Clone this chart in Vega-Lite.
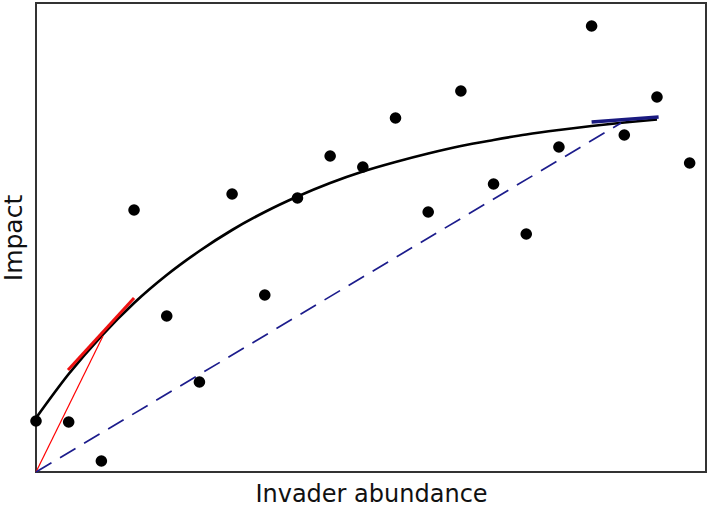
{
  "$schema": "https://vega.github.io/schema/vega-lite/v6.json",
  "width": 670,
  "height": 469,
  "autosize": {"type": "none"},
  "padding": {"left": 36, "top": 3, "right": 3, "bottom": 35},
  "background": "white",
  "config": {
    "view": {"stroke": "#333333", "strokeWidth": 2},
    "axis": {"grid": false, "ticks": false, "labels": false, "domain": false, "titleFont": "DejaVu Sans", "titleFontWeight": "normal", "titleColor": "#111111", "titleFontSize": 25}
  },
  "layer": [
    {
      "data": {"values": [
        {"x": 0, "y": 54}, {"x": 1, "y": 98}, {"x": 2, "y": 136}, {"x": 3, "y": 169},
        {"x": 4, "y": 197}, {"x": 5, "y": 221}, {"x": 6, "y": 242}, {"x": 7, "y": 260},
        {"x": 8, "y": 275.5}, {"x": 9, "y": 289}, {"x": 10, "y": 300.5}, {"x": 11, "y": 310},
        {"x": 12, "y": 318.5}, {"x": 13, "y": 326}, {"x": 14, "y": 332}, {"x": 15, "y": 337.5},
        {"x": 16, "y": 342}, {"x": 17, "y": 346}, {"x": 18, "y": 349.5}, {"x": 19, "y": 352.5}
      ]},
      "mark": {"type": "line", "color": "black", "strokeWidth": 2.7, "interpolate": "monotone"},
      "encoding": {
        "x": {"field": "x", "type": "quantitative", "scale": {"domain": [0, 20.5], "nice": false, "zero": false}, "title": "Invader abundance", "axis": {"titlePadding": 10, "titleFontSize": 24}},
        "y": {"field": "y", "type": "quantitative", "scale": {"domain": [0, 469], "nice": false, "zero": false}, "title": "Impact", "axis": {"titlePadding": 10}}
      }
    },
    {
      "data": {"values": [{"x": 0, "y": 0}, {"x": 2.05, "y": 136}]},
      "mark": {"type": "line", "color": "#ff0000", "strokeWidth": 1.2},
      "encoding": {"x": {"field": "x", "type": "quantitative"}, "y": {"field": "y", "type": "quantitative"}}
    },
    {
      "data": {"values": [{"x": 0.98, "y": 102}, {"x": 3.0, "y": 174}]},
      "mark": {"type": "line", "color": "#ee1111", "strokeWidth": 3},
      "encoding": {"x": {"field": "x", "type": "quantitative"}, "y": {"field": "y", "type": "quantitative"}}
    },
    {
      "data": {"values": [{"x": 0, "y": 0}, {"x": 17.9, "y": 349}]},
      "mark": {"type": "line", "color": "#1c1c8c", "strokeWidth": 1.7, "strokeDash": [18, 10]},
      "encoding": {"x": {"field": "x", "type": "quantitative"}, "y": {"field": "y", "type": "quantitative"}}
    },
    {
      "data": {"values": [{"x": 17.0, "y": 350}, {"x": 19.05, "y": 355}]},
      "mark": {"type": "line", "color": "#1a1a80", "strokeWidth": 3.5},
      "encoding": {"x": {"field": "x", "type": "quantitative"}, "y": {"field": "y", "type": "quantitative"}}
    },
    {
      "data": {"values": [
        {"x": 0, "y": 51}, {"x": 1, "y": 50}, {"x": 2, "y": 11}, {"x": 3, "y": 262},
        {"x": 4, "y": 156}, {"x": 5, "y": 90}, {"x": 6, "y": 278}, {"x": 7, "y": 177},
        {"x": 8, "y": 274}, {"x": 9, "y": 316}, {"x": 10, "y": 305}, {"x": 11, "y": 354},
        {"x": 12, "y": 260}, {"x": 13, "y": 381}, {"x": 14, "y": 288}, {"x": 15, "y": 238},
        {"x": 16, "y": 325}, {"x": 17, "y": 446}, {"x": 18, "y": 337}, {"x": 19, "y": 375},
        {"x": 20, "y": 309}
      ]},
      "mark": {"type": "circle", "color": "black", "opacity": 1, "size": 135},
      "encoding": {"x": {"field": "x", "type": "quantitative"}, "y": {"field": "y", "type": "quantitative"}}
    }
  ]
}
